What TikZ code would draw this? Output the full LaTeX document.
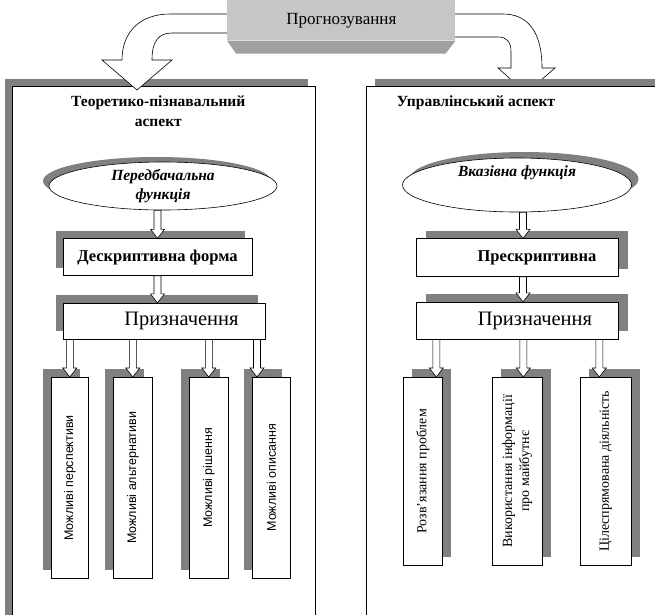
\documentclass[tikz,border=0pt]{standalone}
\usepackage{fontspec}
\setmainfont{Liberation Serif}
\newfontfamily\arialfont{Liberation Sans}
\usepackage{graphicx}
\usetikzlibrary{shapes.geometric,shadows,calc,positioning}

\definecolor{shgray}{RGB}{128,128,128}
\definecolor{lightface}{RGB}{198,198,198}
\definecolor{darkface}{RGB}{160,160,160}

\newcommand\hollowdown[2]{%
  \draw[fill=white, line width=0.6pt] let \p1=#1, \p2=#2 in
    (\x2-3.5pt,\y1) -- (\x2-3.5pt,\y2+9pt) -- (\x2-7pt,\y2+9pt) -- (\x2,\y2)
    -- (\x2+7pt,\y2+9pt) -- (\x2+3.5pt,\y2+9pt) -- (\x2+3.5pt,\y1) -- cycle;}

\begin{document}
\begin{tikzpicture}[x=1pt, y=-1pt, line width=0.6pt,
    shadowed/.style 2 args={drop shadow={shadow xshift=#1, shadow yshift=#2, fill=shgray, opacity=1}},
    box/.style={draw, fill=white, inner sep=0pt},
    panel/.style={box, anchor=north west, minimum width=303pt, minimum height=560pt},
    oval/.style={ellipse, draw, fill=white, inner sep=0pt, align=center, font=\bfseries\itshape\fontsize{15.5}{19}\selectfont},
    title/.style={align=center, font=\bfseries\fontsize{15.5}{20}\selectfont},
    formbox/.style={box, font=\bfseries\fontsize{16.5}{19}\selectfont},
    purpbox/.style={box, minimum width=202pt, font=\fontsize{20.5}{24}\selectfont},
    lvbox/.style={box, anchor=north west, minimum height=201pt, font=\arialfont\fontsize{12.5}{15}\selectfont},
    rvbox/.style={box, anchor=north west, minimum height=188pt, font=\fontsize{14}{17}\selectfont},
    bigarrow/.style={draw, fill=white, line width=0.6pt}]

    \useasboundingbox (0,0) rectangle (655,614);
    \clip (0,0) rectangle (655,614);

    \coordinate (pnw) at (227,0);
    \coordinate (pne) at (455,0);

    \node[panel, shadowed={-7.5pt}{7pt}]          (lpanel)  at (12,86)                     {};
    \node[title]                                  (ltitle)  [below=6pt of lpanel.north, xshift=-5.5pt] {Теоретико-пізнавальний\\аспект};
    \node[oval, shadowed={-6pt}{5pt}, minimum width=228pt, minimum height=48pt]
                                                  (lfunc)   at (163,186)                   {Передбачальна\\функція};
    \node[formbox, shadowed={-7pt}{8pt}, minimum width=189pt, minimum height=37pt]
                                                  (ldesc)   [below=28pt of lfunc, xshift=-5.5pt] {Дескриптивна форма};
    \node[purpbox, shadowed={-7pt}{8pt}, minimum height=36pt]
                                                  (lpurp)   [below=27pt of ldesc.south west, anchor=north west] {\hspace*{35pt}Призначення};
    \node[lvbox, shadowed={-8pt}{8pt}, minimum width=37pt] (lm1) at (51,377)  {\rotatebox{90}{Можливі перспективи}};
    \node[lvbox, shadowed={-8pt}{8pt}, minimum width=39pt] (lm2) at (113,377) {\rotatebox{90}{Можливі альтернативи}};
    \node[lvbox, shadowed={-8pt}{8pt}, minimum width=39pt] (lm3) at (189,377) {\rotatebox{90}{Можливі рішення}};
    \node[lvbox, shadowed={-8pt}{8pt}, minimum width=38pt] (lm4) at (252,377) {\rotatebox{90}{Можливі описання}};

    \hollowdown{(lfunc.south)}{(ldesc.north)}
    \hollowdown{(ldesc.south)}{(ldesc.south |- lpurp.north)}
    \hollowdown{(lpurp.south)}{(lm1.north)}
    \hollowdown{(lpurp.south)}{(lm2.north)}
    \hollowdown{(lpurp.south)}{(lm3.north)}
    \hollowdown{(lpurp.south)}{([xshift=5pt]lm4.north west)}

    \draw[bigarrow] ($(pne)+(0,14)$) -- (503,14) .. controls (528,14) and (542,32) .. (542,68)
        -- (555,68) -- (526,93) -- (498,68) -- (511,68) -- (511,52)
        .. controls (511,42) and (507,37) .. (498,37) -- ($(pne)+(0,37)$);

    \node[panel, shadowed={9pt}{7pt}]             (rpanel)  at (366,86)                    {};
    \node[title]                                  (rtitle)  at (476,103)                   {Управлінський аспект};
    \node[oval, shadowed={7pt}{6pt}, minimum width=229pt, minimum height=54pt, text depth=27pt]
                                                  (rfunc)   at (517,185)                   {Вказівна функція};
    \node[formbox, shadowed={10pt}{8pt}, minimum width=202pt, minimum height=38pt]
                                                  (rpres)   [below=26pt of rfunc]          {\hspace*{40pt}Прескриптивна};
    \node[purpbox, shadowed={10pt}{8pt}, minimum height=37pt]
                                                  (rpurp)   [below=25pt of rpres]          {\hspace*{36pt}Призначення};
    \node[rvbox, shadowed={9pt}{8pt}, minimum width=39pt] (rm1) at (403,377) {\rotatebox{90}{Розв’язання проблем}};
    \node[rvbox, shadowed={9pt}{8pt}, minimum width=50pt] (rm2) at (492,377)
        {\rotatebox{90}{\begin{tabular}{@{}c@{}}Використання інформації\\про майбутнє\end{tabular}}};
    \node[rvbox, shadowed={9pt}{8pt}, minimum width=51pt] (rm3) at (580,377) {\rotatebox{90}{Цілеспрямована діяльність}};

    \hollowdown{(rfunc.south)}{([xshift=6pt]rpres.north)}
    \hollowdown{(rpres.south)}{([xshift=6pt]rpurp.north)}
    \hollowdown{(rpurp.south)}{([xshift=13.5pt]rm1.north)}
    \hollowdown{(rpurp.south)}{([xshift=6pt]rm2.north)}
    \hollowdown{(rpurp.south)}{([xshift=-6.5pt]rm3.north)}

    \draw[bigarrow] ($(pnw)+(0,14)$) -- (170,14) .. controls (140,14) and (122,32) .. (122,60)
        -- (102,60) -- (137,90) -- (172,60) -- (152,60)
        .. controls (152,42) and (158,33) .. (172,33) -- ($(pnw)+(0,33)$);

    \node[fill=lightface, anchor=north west, minimum width=228pt, minimum height=40pt,
          font=\fontsize{17}{20}\selectfont] (prog) at (pnw) {Прогнозування};
    \fill[darkface] (prog.south west) -- (prog.south east) -- ++(-10,13)
        -- ($(prog.south west)+(9,13)$) -- cycle;
\end{tikzpicture}
\end{document}
